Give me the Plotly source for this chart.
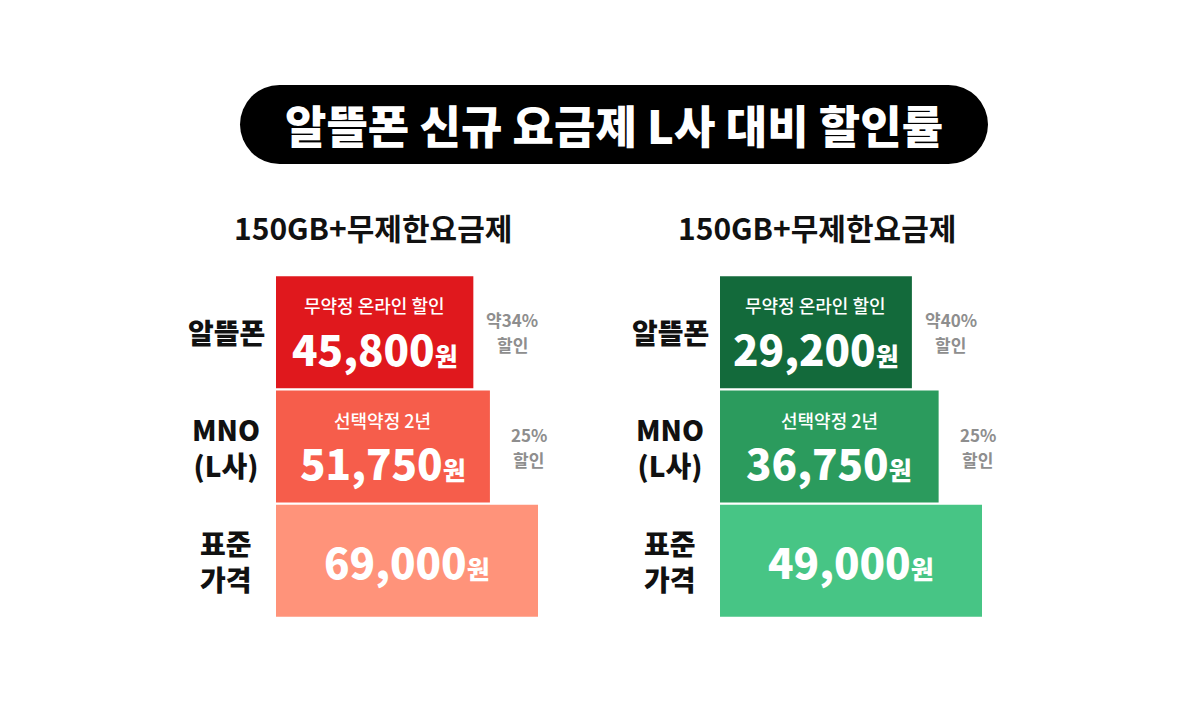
import plotly.graph_objects as go

# ---------------- data ----------------
main_title = "알뜰폰 신규 요금제 L사 대비 할인률"
plan_titles = ["150GB+무제한요금제", "150GB+무제한요금제"]
categories = ["알뜰폰", "MNO<br>(L사)", "표준<br>가격"]
left_values = [45800, 51750, 69000]
right_values = [29200, 36750, 49000]
bar_notes = ["무약정 온라인 할인", "선택약정 2년", ""]
left_discounts = ["약34%", "25%", ""]
right_discounts = ["약40%", "25%", ""]
discount_word = "할인"
unit = "원"

# ---------------- style ----------------
FONT = "Noto Sans CJK KR"
left_colors = ["#E0181D", "#F65D4B", "#FF937A"]
right_colors = ["#136A3B", "#2B9B5D", "#47C585"]
BASE = -25000
W, H = 1200, 720

fig = go.Figure()

panels = [
    ("x", left_values, left_colors, left_discounts, plan_titles[0], (276, 538)),
    ("x2", right_values, right_colors, right_discounts, plan_titles[1], (720, 982)),
]

for xa, vals, cols, discs, ptitle, dom in panels:
    fig.add_trace(go.Bar(
        y=categories, x=[v - BASE for v in vals], base=BASE,
        orientation="h", marker=dict(color=cols, line=dict(width=0)),
        xaxis=xa, yaxis="y", hoverinfo="skip", showlegend=False,
    ))
    for cat, v, note, d in zip(categories, vals, bar_notes, discs):
        mid = (BASE + v) / 2
        num = f"{v:,}"
        if note:
            fig.add_annotation(x=mid, y=cat, xref=xa, yref="y", text=note,
                               showarrow=False, yshift=27, xanchor="center", yanchor="middle",
                               font=dict(family=FONT, size=18, color="white", weight=500))
            ysh = -15
        else:
            ysh = 0
        fig.add_annotation(x=mid, y=cat, xref=xa, yref="y",
                           text=f"{num}<span style='font-size:25px'>{unit}</span>",
                           showarrow=False, yshift=ysh, xanchor="center", yanchor="middle",
                           font=dict(family=FONT, size=42, color="white", weight=900))
        if d:
            for line, sh in ((d, 12.5), (discount_word, -12.5)):
                fig.add_annotation(x=v, y=cat, xref=xa, yref="y", text=line,
                                   showarrow=False, xshift=39, yshift=sh,
                                   xanchor="center", yanchor="middle",
                                   font=dict(family=FONT, size=17, color="#8E8E8E", weight=700))
    lx = (dom[0] - 50) / W
    for cat in categories:
        fig.add_annotation(x=lx, y=cat, xref="paper", yref="y", text=cat,
                           showarrow=False, xanchor="center", yanchor="middle",
                           font=dict(family=FONT, size=28, color="#111111", weight=900))
    fig.add_annotation(x=(dom[0] + 97) / W, y=1 - 227 / H, xref="paper", yref="paper",
                       text=ptitle, showarrow=False,
                       xanchor="center", yanchor="middle",
                       font=dict(family=FONT, size=30, color="#111111", weight=700))

# title pill
x0, x1, y0, y1 = 240, 988, 85, 164
r = (y1 - y0) / 2
fig.add_shape(type="rect", xref="paper", yref="paper",
              x0=(x0 + r) / W, x1=(x1 - r) / W, y0=1 - y1 / H, y1=1 - y0 / H,
              fillcolor="black", line=dict(width=0), layer="below")
for cx in (x0, x1 - 2 * r):
    fig.add_shape(type="circle", xref="paper", yref="paper",
                  x0=cx / W, x1=(cx + 2 * r) / W, y0=1 - y1 / H, y1=1 - y0 / H,
                  fillcolor="black", line=dict(width=0), layer="below")
fig.add_annotation(x=(x0 + x1) / 2 / W, y=1 - (y0 + y1) / 2 / H, xref="paper", yref="paper",
                   text=main_title, showarrow=False,
                   xanchor="center", yanchor="middle",
                   font=dict(family=FONT, size=45, color="white", weight=900))

fig.update_layout(
    width=W, height=H, margin=dict(l=0, r=0, t=0, b=0),
    paper_bgcolor="white", plot_bgcolor="white",
    bargap=0.02,
    xaxis=dict(domain=[276 / W, 538 / W], range=[BASE, left_values[-1]], visible=False, fixedrange=True),
    xaxis2=dict(domain=[720 / W, 982 / W], range=[BASE, right_values[-1]], visible=False, fixedrange=True, anchor="y"),
    yaxis=dict(domain=[1 - 618 / H, 1 - 275 / H], categoryorder="array", categoryarray=categories,
               autorange="reversed", visible=False, fixedrange=True),
)

fig.write_html("out.html", config={"displayModeBar": False})
